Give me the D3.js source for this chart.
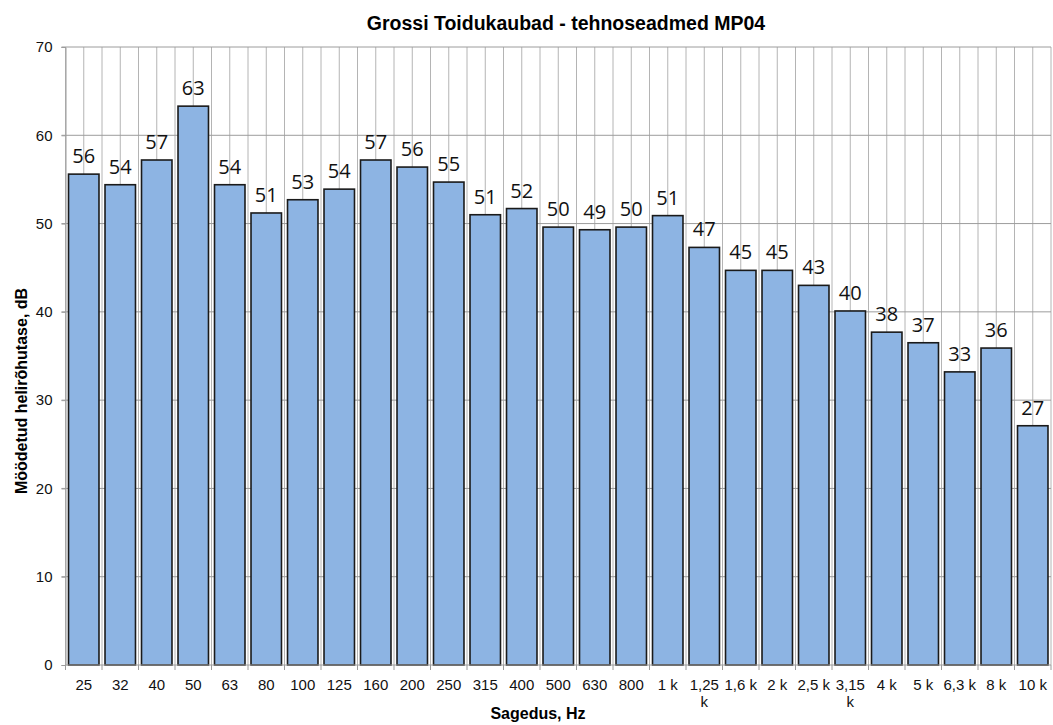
<!DOCTYPE html>
<html>
<head>
<meta charset="utf-8">
<script src="https://cdn.jsdelivr.net/npm/d3@7"></script>
<style>
  body { margin: 0; background: #fff; }
  svg { display: block; }
</style>
</head>
<body>
<svg id="chart" width="1053" height="725"></svg>
<script>
// band centre frequencies, Hz
const freqs = ['25', '32', '40', '50', '63', '80', '100', '125', '160', '200', '250', '315', '400',
  '500', '630', '800', '1 k', '1,25 k', '1,6 k', '2 k', '2,5 k', '3,15 k', '4 k', '5 k', '6,3 k', '8 k', '10 k'];

// measured level per band, dB
const levels = [55.6, 54.4, 57.2, 63.3, 54.4, 51.2, 52.7, 53.9, 57.2, 56.4, 54.7, 51.0, 51.7,
  49.6, 49.3, 49.6, 50.9, 47.3, 44.7, 44.7, 43.0, 40.1, 37.7, 36.5, 33.2, 35.9, 27.1];

const yTicks = [0, 10, 20, 30, 40, 50, 60, 70];

const title = 'Grossi Toidukaubad - tehnoseadmed MP04';
const xTitle = 'Sagedus, Hz';
const yTitle = 'Möödetud helirõhutase, dB';

const data = freqs.map((f, i) => ({ f: f, v: levels[i] }));

const svg = d3.select('#chart');
const margin = { top: 47, right: 2, bottom: 60, left: 65.5 };
const width = 1053 - margin.left - margin.right;
const height = 725 - margin.top - margin.bottom;

const x = d3.scaleBand()
    .domain(freqs)
    .range([0, width])
    .paddingInner(0.165)
    .paddingOuter(0.0825);

const y = d3.scaleLinear()
    .domain([0, 70])
    .range([height, 0]);

const step = x.step();
const x0 = x(freqs[0]) - x.paddingOuter() * step;

const g = svg.append('g')
    .attr('transform', `translate(${margin.left},${margin.top})`);

// vertical grid: slot edges and slot centres
const vlines = [];
for (let i = 0; i <= freqs.length; i++) vlines.push(x0 + i * step);
for (let i = 0; i < freqs.length; i++) vlines.push(x0 + (i + 0.5) * step);

g.append('g')
    .attr('class', 'vgrid')
    .selectAll('line')
    .data(vlines)
    .join('line')
    .attr('x1', d => d).attr('x2', d => d)
    .attr('y1', 0).attr('y2', height)
    .style('stroke', '#b4b4b4')
    .style('stroke-width', 1);

// horizontal grid
g.append('g')
    .attr('class', 'hgrid')
    .selectAll('line')
    .data(yTicks.slice(1))
    .join('line')
    .attr('x1', -4).attr('x2', width)
    .attr('y1', d => y(d)).attr('y2', d => y(d))
    .style('stroke', '#9c9c9c')
    .style('stroke-width', 1);

// bars
g.append('g')
    .attr('class', 'bars')
    .selectAll('rect')
    .data(data)
    .join('rect')
    .attr('x', d => x(d.f))
    .attr('width', x.bandwidth())
    .attr('y', d => y(d.v))
    .attr('height', d => y(0) - y(d.v))
    .style('fill', '#8db4e3')
    .style('stroke', '#1a1a1a')
    .style('stroke-width', 1.6);

// value labels
g.append('g')
    .attr('class', 'values')
    .selectAll('text')
    .data(data)
    .join('text')
    .attr('x', d => x(d.f) + x.bandwidth() / 2)
    .attr('y', d => y(d.v) - 11)
    .attr('text-anchor', 'middle')
    .style('font-family', '"Open Sans", sans-serif')
    .style('font-size', '20px')
    .style('fill', '#111')
    .text(d => Math.round(d.v));

// y axis
const yAxis = g.append('g')
    .attr('class', 'y-axis')
    .call(d3.axisLeft(y).tickValues(yTicks).tickSize(4).tickPadding(9));
yAxis.select('.domain').style('stroke', '#9c9c9c');
yAxis.selectAll('.tick line').style('stroke', '#9c9c9c');
yAxis.selectAll('.tick text')
    .style('font-family', '"Liberation Sans", Arial, sans-serif')
    .style('font-size', '15px')
    .style('fill', '#111');

// x axis: baseline, ticks at slot edges, wrapped labels
const xAxis = g.append('g')
    .attr('class', 'x-axis')
    .attr('transform', `translate(0,${height})`);

xAxis.append('line')
    .attr('x1', 0).attr('x2', width)
    .style('stroke', '#9c9c9c');

xAxis.selectAll('.edge')
    .data(d3.range(freqs.length + 1))
    .join('line')
    .attr('class', 'edge')
    .attr('x1', i => x0 + i * step).attr('x2', i => x0 + i * step)
    .attr('y1', 0).attr('y2', 5)
    .style('stroke', '#9c9c9c');

const lbl = xAxis.selectAll('.lbl')
    .data(freqs)
    .join('text')
    .attr('class', 'lbl')
    .attr('text-anchor', 'middle')
    .attr('y', 25)
    .style('font-family', '"Liberation Sans", Arial, sans-serif')
    .style('font-size', '15px')
    .style('fill', '#111');

lbl.each(function (f) {
    const t = d3.select(this);
    const cx = x(f) + x.bandwidth() / 2;
    // the two long labels wrap in the original
    const parts = f.length > 5 ? [f.replace(/ k$/, ''), 'k'] : [f];
    parts.forEach((p, i) => {
        t.append('tspan')
            .attr('x', cx)
            .attr('dy', i ? 17 : 0)
            .text(p);
    });
});

// titles
svg.append('text')
    .attr('x', 566)
    .attr('y', 30)
    .attr('text-anchor', 'middle')
    .style('font-family', '"Liberation Sans", Arial, sans-serif')
    .style('font-weight', 'bold')
    .style('font-size', '19.5px')
    .text(title);

svg.append('text')
    .attr('x', 538)
    .attr('y', 719)
    .attr('text-anchor', 'middle')
    .style('font-family', '"Liberation Sans", Arial, sans-serif')
    .style('font-weight', 'bold')
    .style('font-size', '16px')
    .text(xTitle);

svg.append('text')
    .attr('transform', 'translate(27,391) rotate(-90)')
    .attr('text-anchor', 'middle')
    .style('font-family', '"Liberation Sans", Arial, sans-serif')
    .style('font-weight', 'bold')
    .style('font-size', '16px')
    .text(yTitle);
</script>
</body>
</html>
